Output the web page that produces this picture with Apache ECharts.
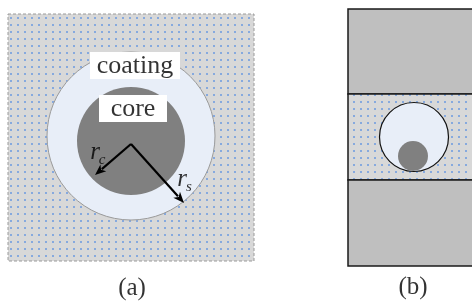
<!DOCTYPE html>
<html>
<head>
<meta charset="utf-8">
<script src="https://cdn.jsdelivr.net/npm/echarts@6/dist/echarts.min.js"></script>
<style>
  html, body { margin: 0; padding: 0; background: #fff; }
  #chart { width: 472px; height: 304px; }
</style>
</head>
<body>
<div id="chart"></div>
<script>
// diagram geometry, in page units (x right, y down)
const squareA = [[8, 14, 254, 261]];                 // x0, y0, x1, y1
const circlesA = [[131, 136, 84], [131, 141, 54]];   // coating, core: cx, cy, r
const arrowsA = [[131, 144, 95, 175], [131, 144, 184, 203]]; // from -> to
const labelBoxes = [['coating', 90, 52, 180, 79], ['core', 99, 95, 167, 122]];
// radius symbol, subscript, anchor
const radiusLabels = [['r', 'c', 95, 152], ['r', 's', 182, 179]];

const slabsB = [[348, 9, 482, 94], [348, 94, 482, 180], [348, 180, 482, 266]];
const circlesB = [[414, 137, 34.5], [413, 156, 15]];
const captions = [['(a)', 132, 288], ['(b)', 413, 287]];

const chart = echarts.init(document.getElementById('chart'));

// dotted fill used for the matrix regions
function dotPattern() {
  const c = document.createElement('canvas');
  c.width = 7; c.height = 7;
  const g = c.getContext('2d');
  g.fillStyle = '#d8d8d8';
  g.fillRect(0, 0, 7, 7);
  g.fillStyle = '#86a9de';
  g.fillRect(3, 3, 2, 2);
  return c;
}
const dots = { image: dotPattern(), repeat: 'repeat' };

const rectItem = (api, style) => {
  const p0 = api.coord([api.value(0), api.value(1)]);
  const p1 = api.coord([api.value(2), api.value(3)]);
  return { type: 'rect', shape: { x: p0[0], y: p0[1], width: p1[0] - p0[0], height: p1[1] - p0[1] }, style };
};
const circleItem = (api, style) => {
  const c = api.coord([api.value(0), api.value(1)]);
  const r = api.size([api.value(2), 0])[0];
  return { type: 'circle', shape: { cx: c[0], cy: c[1], r }, style };
};

const serif = 'Liberation Serif';

// text marks, placed through the same axes
const textItems = [].concat(
  labelBoxes.map(d => ({ value: [(d[1] + d[3]) / 2, (d[2] + d[4]) / 2 + 1], name: d[0], label: { fontSize: 26 } })),
  radiusLabels.map(d => ({ value: [d[2], d[3]], name: d[0], label: { fontSize: 25, fontStyle: 'italic' } })),
  radiusLabels.map(d => ({ value: [d[2] + 7, d[3] + 8], name: d[1], label: { fontSize: 15, fontStyle: 'italic' } })),
  captions.map(d => ({ value: [d[1], d[2]], name: d[0], label: { fontSize: 25 } }))
);

const option = {
  animation: false,
  textStyle: { fontFamily: serif },
  grid: { left: 0, right: 0, top: 0, bottom: 0 },
  xAxis: { type: 'value', min: 0, max: 472, show: false },
  yAxis: { type: 'value', min: 0, max: 304, inverse: true, show: false },
  series: [
    {
      type: 'custom', data: squareA, z: 1,
      renderItem: (params, api) => rectItem(api, { fill: dots, stroke: '#9a9a9a', lineWidth: 1, lineDash: [3, 2] })
    },
    {
      type: 'custom', data: circlesA, z: 2,
      renderItem: (params, api) => params.dataIndex === 0
        ? circleItem(api, { fill: '#e8eef8', stroke: '#9a9a9a', lineWidth: 1 })
        : circleItem(api, { fill: '#808080' })
    },
    {
      type: 'custom', data: arrowsA, z: 3,
      renderItem: (params, api) => {
        const a = api.coord([api.value(0), api.value(1)]);
        const b = api.coord([api.value(2), api.value(3)]);
        const dx = b[0] - a[0], dy = b[1] - a[1];
        const len = Math.sqrt(dx * dx + dy * dy);
        const ux = dx / len, uy = dy / len;
        const hl = 11, hw = 4.5;
        const bx = b[0] - ux * hl, by = b[1] - uy * hl;
        return {
          type: 'group',
          children: [
            { type: 'line', shape: { x1: a[0], y1: a[1], x2: bx + ux * 2, y2: by + uy * 2 }, style: { stroke: '#000', lineWidth: 2.2 } },
            { type: 'polygon', shape: { points: [b, [bx - uy * hw, by + ux * hw], [bx + ux * 3, by + uy * 3], [bx + uy * hw, by - ux * hw]] }, style: { fill: '#000' } }
          ]
        };
      }
    },
    {
      type: 'custom', data: labelBoxes.map(d => d.slice(1)), z: 4,
      renderItem: (params, api) => rectItem(api, { fill: '#fff' })
    },
    {
      type: 'custom', data: slabsB, z: 1,
      renderItem: (params, api) => rectItem(api, {
        fill: params.dataIndex === 1 ? dots : '#bfbfbf', stroke: '#1a1a1a', lineWidth: 1.5
      })
    },
    {
      type: 'custom', data: circlesB, z: 2,
      renderItem: (params, api) => params.dataIndex === 0
        ? circleItem(api, { fill: '#e8eef8', stroke: '#111', lineWidth: 1.2 })
        : circleItem(api, { fill: '#808080' })
    },
    {
      type: 'scatter', data: textItems, z: 6,
      symbolSize: 0, silent: true,
      label: {
        show: true, position: 'inside', formatter: '{b}',
        color: '#000', fontFamily: serif, textBorderWidth: 0
      }
    }
  ]
};

chart.setOption(option);
</script>
</body>
</html>
